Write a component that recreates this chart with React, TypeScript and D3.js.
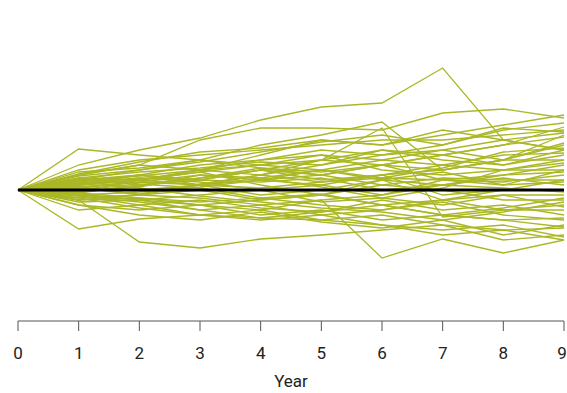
import React, { useEffect, useRef } from "react";
import * as d3 from "d3";

const years = [0, 1, 2, 3, 4, 5, 6, 7, 8, 9];

// simulated paths, deviation from the baseline
const paths: number[][] = [
  [0, 25, 40, 52, 70, 83, 87, 122, 50, 40],
  [0, 15, 25, 50, 62, 62, 60, 77, 81, 72],
  [0, 41, 35, 30, 22, 18, 25, 10, 5, 20],
  [0, 10, 20, 30, 45, 55, 68, 20, 30, 55],
  [0, 5, 10, 20, 35, 50, 45, 55, 65, 75],
  [0, 20, 30, 35, 40, 45, 50, 50, 55, 60],
  [0, 8, 15, 25, 30, 40, 35, 45, 60, 67],
  [0, 12, 18, 22, 28, 25, 35, 40, 50, 57],
  [0, 6, 12, 10, 20, 30, 25, 35, 45, 53],
  [0, 15, 25, 20, 15, 25, 40, 30, 25, 40],
  [0, 3, 8, 15, 10, 20, 30, 25, 35, 37],
  [0, 10, 5, 12, 22, 15, 25, 20, 30, 30],
  [0, 18, 22, 30, 25, 35, 20, 15, 20, 27],
  [0, 5, 15, 10, 20, 10, 15, 25, 20, 20],
  [0, 8, 3, 15, 12, 20, 10, 5, 15, 18],
  [0, 12, 10, 5, 15, 8, 12, 10, 8, 15],
  [0, 2, 8, 5, 10, 15, 5, 12, 10, 10],
  [0, 6, 10, 18, 5, -5, 10, 18, 5, 8],
  [0, -3, 5, 10, 8, 12, 0, 5, 12, 5],
  [0, 4, 0, 5, 2, 8, 15, -5, 0, 0],
  [0, -5, -2, 3, 10, 5, -5, 5, 2, -2],
  [0, 10, 15, 5, -5, 0, 10, -10, -5, -5],
  [0, -8, -5, 0, -10, -5, 5, 0, -10, -10],
  [0, -4, -10, -5, 0, -12, -8, -15, -5, -17],
  [0, -10, -8, -15, -10, -5, -15, -10, -20, -20],
  [0, -6, -15, -10, -18, -22, -10, -20, -15, -25],
  [0, -12, -10, -20, -15, -25, -20, -12, -25, -30],
  [0, -15, -20, -15, -25, -20, -30, -25, -30, -37],
  [0, -8, -18, -25, -20, -30, -25, -35, -40, -38],
  [0, -20, -15, -25, -30, -25, -35, -40, -35, -47],
  [0, -39, -29, -25, -28, -30, -35, -45, -40, -50],
  [0, -10, -52, -58, -49, -45, -40, -35, -50, -45],
  [0, -5, -10, -15, -20, -10, -68, -49, -63, -50],
  [0, 5, 10, 20, 25, 30, 62, -27, -20, -15],
  [0, -3, -8, -12, -8, -15, -20, -10, 0, 10],
  [0, 3, -5, -8, -15, -10, -5, 10, 15, 25],
  [0, 7, 12, 8, 0, 5, 15, 20, 30, 47],
  [0, -2, 4, 12, 20, 15, 25, 35, 45, 63],
  [0, 9, 14, 20, 30, 35, 30, 40, 30, 45],
  [0, 14, 20, 28, 38, 48, 55, 45, 62, 58],
  [0, -6, -12, -20, -28, -22, -15, -25, -30, -28],
  [0, -15, -25, -30, -22, -32, -38, -30, -45, -35],
  [0, 2, -4, 6, 15, 30, 40, 35, 25, 35],
  [0, 11, 6, 2, -8, -4, -15, -25, -18, -8],
  [0, -2, 10, 18, 25, 20, 12, 22, 38, 42],
  [0, 16, 28, 38, 42, 50, 45, 60, 50, 40],
  [0, -10, -5, 5, 12, 3, -8, 2, 20, 30],
  [0, 6, 2, -6, -12, -18, -22, -30, -22, -12],
];

const baseline = years.map(() => 0);

const width = 567;
const height = 393;

export default function App() {
  const ref = useRef<SVGSVGElement>(null);

  useEffect(() => {
    const svg = d3.select(ref.current);
    svg.selectAll("*").remove();

    const x = d3.scaleLinear().domain([0, 9]).range([18, 564]);
    const y = d3.scaleLinear().domain([-130, 130]).range([320, 60]);

    const line = d3
      .line<number>()
      .x((d, i) => x(years[i]))
      .y(d => y(d));

    svg
      .append("g")
      .selectAll("path")
      .data(paths)
      .enter()
      .append("path")
      .attr("d", d => line(d))
      .attr("fill", "none")
      .attr("stroke", "#abb826")
      .attr("stroke-width", 1.3);

    svg
      .append("path")
      .attr("d", line(baseline))
      .attr("fill", "none")
      .attr("stroke", "#000")
      .attr("stroke-width", 3);

    const axis = svg.append("g").attr("transform", "translate(0, 321)");
    axis
      .append("line")
      .attr("x1", x(0))
      .attr("x2", x(9))
      .attr("stroke", "#555")
      .attr("stroke-width", 1);
    axis
      .selectAll("line.tick")
      .data(years)
      .enter()
      .append("line")
      .attr("class", "tick")
      .attr("x1", d => x(d))
      .attr("x2", d => x(d))
      .attr("y1", 0)
      .attr("y2", 10)
      .attr("stroke", "#555");
    axis
      .selectAll("text")
      .data(years)
      .enter()
      .append("text")
      .attr("x", d => (d === 9 ? x(d) - 2 : x(d)))
      .attr("y", 38)
      .attr("text-anchor", "middle")
      .attr("font-family", "Roboto, sans-serif")
      .attr("font-size", 17)
      .attr("fill", "#222")
      .text(d => d);

    svg
      .append("text")
      .attr("x", (x(0) + x(9)) / 2)
      .attr("y", 387)
      .attr("text-anchor", "middle")
      .attr("font-family", "Roboto, sans-serif")
      .attr("font-size", 17)
      .attr("fill", "#222")
      .text("Year");
  }, []);

  return (
    <svg
      ref={ref}
      width={width}
      height={height}
      style={{ position: "absolute", left: 0, top: 0 }}
    />
  );
}
